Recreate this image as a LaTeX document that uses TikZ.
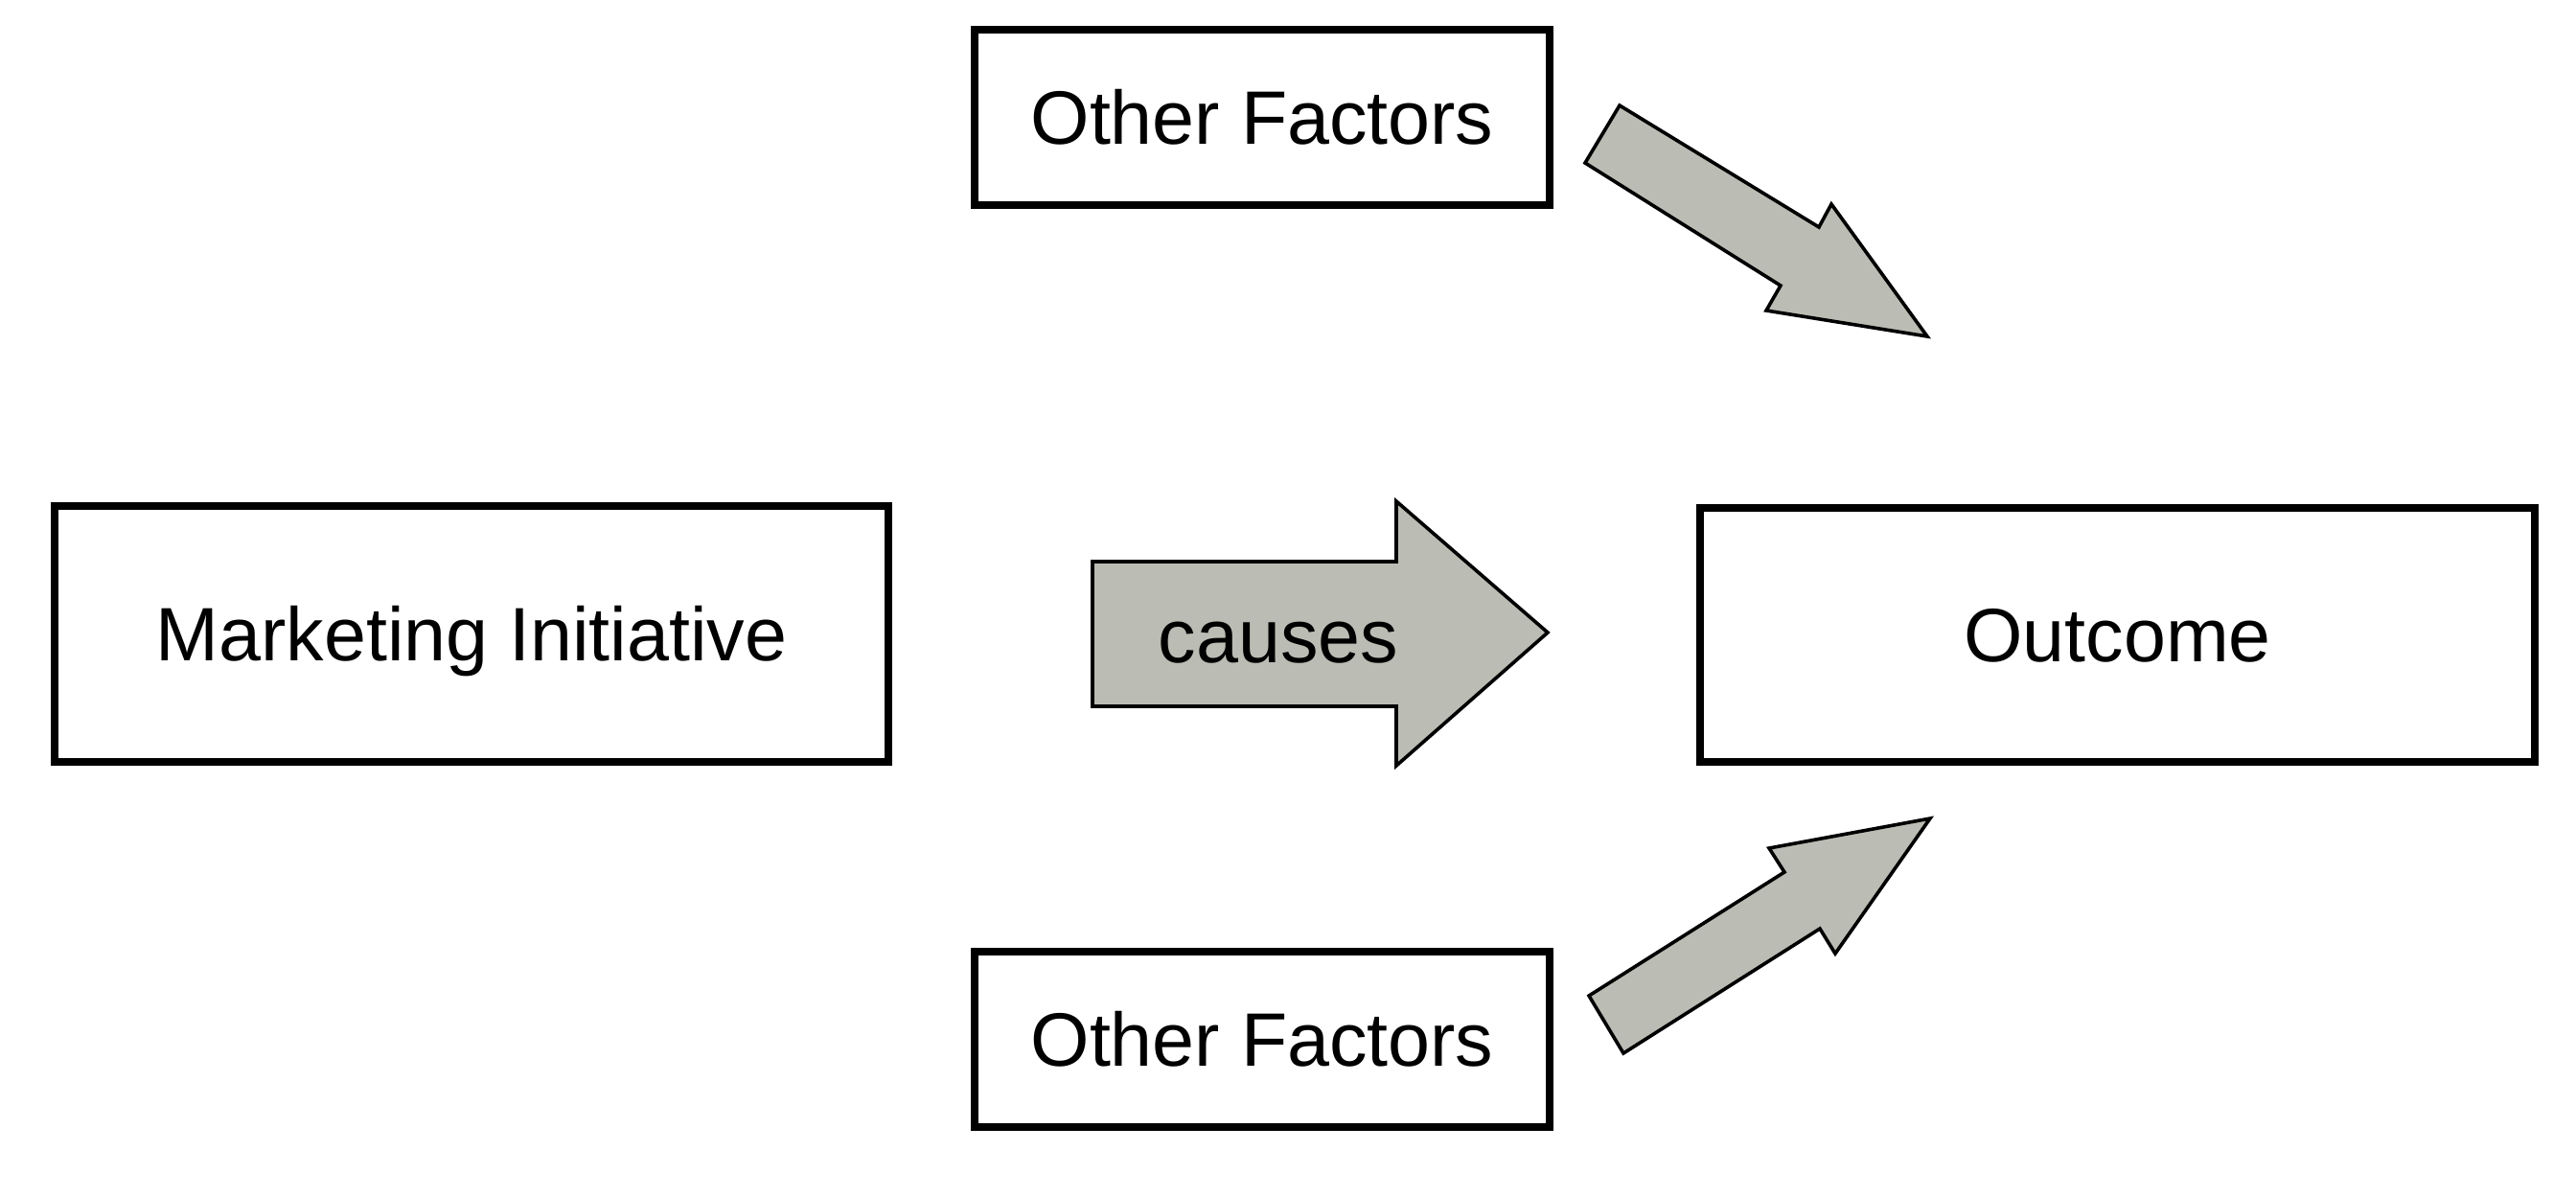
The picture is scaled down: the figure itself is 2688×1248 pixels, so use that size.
\documentclass[tikz,border=0pt]{standalone}
\usepackage{fontspec}
\setmainfont{Liberation Sans}
\definecolor{arrowfill}{RGB}{187,189,180}
\begin{document}
\begin{tikzpicture}[x=0.5pt,y=-0.5pt,
  box/.style={draw=black,line width=4pt,fill=white,inner sep=0pt,text height=28pt,text depth=0pt,font=\fontsize{39.5}{48}\selectfont},
  bigarrow/.style={draw=black,line width=1.8pt,fill=arrowfill,line join=miter},
  lbl/.style={inner sep=0pt,font=\fontsize{39.5}{48}\selectfont}]
\useasboundingbox (0,0) rectangle (2688,1248);
\node[box,minimum width=300pt,minimum height=91.5pt] (oftop) at (1317,122.5) {Other Factors};
\node[box,minimum width=435pt,minimum height=133.5pt] (mi) at (492,661.5) {Marketing Initiative};
\node[box,minimum width=435.5pt,minimum height=132.5pt] (out) at (2209.5,662.5) {Outcome};
\node[box,minimum width=300pt,minimum height=91.5pt] (ofbot) at (1317,1084.5) {Other Factors};
% causes arrow
\draw[bigarrow] (1140,586) -- (1457,586) -- (1457,523) -- (1615,660) -- (1457,799) -- (1457,737) -- (1140,737) -- cycle;
\node[lbl,anchor=base] (causes) at (1334,691) {causes};
% top diagonal arrow
\draw[bigarrow] (1690,110) -- (1898,237) -- (1911,213) -- (2011,351) -- (1843,324) -- (1858,298) -- (1654,170) -- cycle;
% bottom diagonal arrow
\draw[bigarrow] (1658,1039) -- (1862,910) -- (1846,885) -- (2014,854) -- (1915,995) -- (1899,969) -- (1694,1099) -- cycle;
\end{tikzpicture}
\end{document}
